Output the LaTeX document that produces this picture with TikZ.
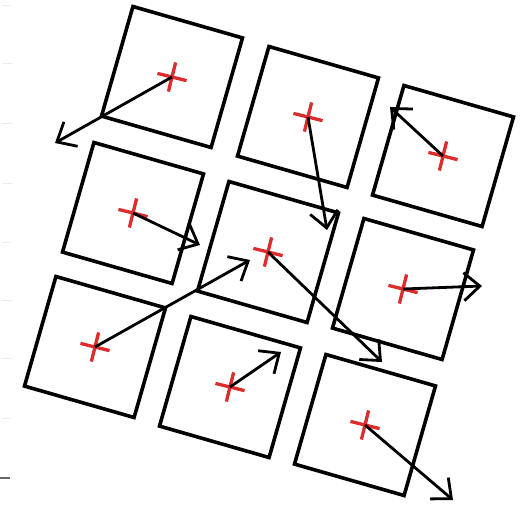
\documentclass[tikz,border=0pt]{standalone}
\usetikzlibrary{arrows.meta}
\definecolor{crossred}{RGB}{220,45,45}
\begin{document}
\begin{tikzpicture}[x=1pt,y=-1pt,
  sq/.style={draw=black,line width=3.6pt,rectangle,minimum size=114pt,inner sep=0pt,rotate=-16},
  vec/.style={line width=2.8pt,-{Straight Barb[length=16pt,width=28pt,line width=2.8pt]}},
  tick/.style={line width=1pt,black!7}]
\useasboundingbox (0,0) rectangle (520,507);
\foreach \yy in {5,63,123,183,242,300,358,418}{\draw[tick] (2,\yy) -- (12,\yy);}
\draw[line width=1.5pt,black!60] (0,478) -- (10,478);
% squares (centres)
\node[sq] (s1) at (172,77) {};
\node[sq] (s2) at (308,117) {};
\node[sq] (s3) at (443,156) {};
\node[sq] (s4) at (133,213) {};
\node[sq] (s5) at (268,252) {};
\node[sq] (s6) at (403,289) {};
\node[sq] (s7) at (95,347) {};
\node[sq] (s8) at (230,387) {};
\node[sq] (s9) at (365,425) {};
% crosses
\foreach \n in {1,...,9}{
  \draw[crossred,line width=3.3pt,rotate around={-14:(s\n.center)}]
    ([xshift=-15pt]s\n.center) -- ([xshift=15pt]s\n.center)
    ([yshift=-15pt]s\n.center) -- ([yshift=15pt]s\n.center);
}
% arrow tips
\coordinate (t1) at (55,143);
\coordinate (t2) at (327,230);
\coordinate (t3) at (390,107);
\coordinate (t4) at (200,245);
\coordinate (t5) at (382,362);
\coordinate (t6) at (482,286);
\coordinate (t7) at (250,260);
\coordinate (t8) at (281,352);
\coordinate (t9) at (453,500);
\foreach \n in {1,...,9}{\draw[vec] (s\n.center) -- (t\n);}
\end{tikzpicture}
\end{document}
